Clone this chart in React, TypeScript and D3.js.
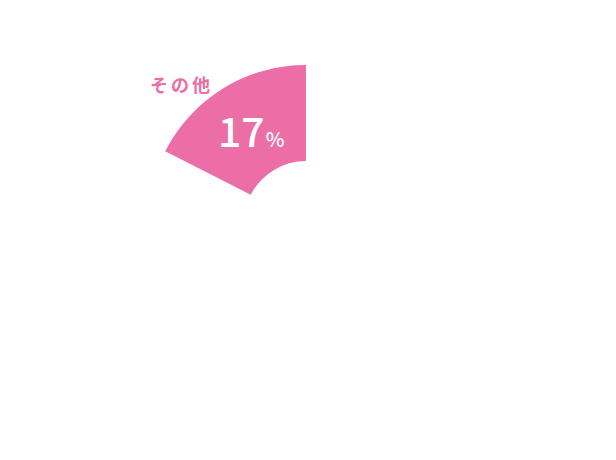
import React, { useRef, useEffect } from "react";
import * as d3 from "d3";

const categories = ["その他"];
const shares = [17.5];
const shareLabels = ["17"];
const colors = ["#ec6ea6"];

const App: React.FC = () => {
  const ref = useRef<SVGSVGElement | null>(null);

  useEffect(() => {
    if (!ref.current) return;
    const svg = d3.select(ref.current);
    svg.selectAll("*").remove();

    const cx = 306;
    const cy = 223;
    const outer = 158;
    const inner = 62;

    // percent -> angle, slice ends at 12 o'clock
    const angle = d3.scaleLinear().domain([0, 100]).range([0, 2 * Math.PI]);
    const arc = d3.arc<any>().innerRadius(inner).outerRadius(outer);

    const g = svg.append("g").attr("transform", `translate(${cx},${cy})`);

    g.selectAll("path")
      .data(shares)
      .join("path")
      .attr("d", (d) => arc({ startAngle: -angle(d), endAngle: 0 }) as string)
      .attr("fill", (_, i) => colors[i]);

    const font = "'Noto Sans CJK JP', 'Noto Sans', sans-serif";

    svg
      .append("text")
      .attr("x", 150)
      .attr("y", 92)
      .attr("font-family", font)
      .attr("font-size", 18)
      .attr("font-weight", 700)
      .attr("letter-spacing", 3)
      .attr("fill", colors[0])
      .text(categories[0]);

    const label = svg
      .append("text")
      .attr("x", 218)
      .attr("y", 147)
      .attr("font-family", font)
      .attr("font-weight", 500)
      .attr("fill", "#fff");
    label.append("tspan").attr("font-size", 41).text(shareLabels[0]);
    label.append("tspan").attr("font-size", 20).attr("dx", 1).text("%");
  }, []);

  return (
    <svg
      ref={ref}
      width={616}
      height={460}
      style={{ position: "absolute", left: 0, top: 0 }}
    />
  );
};

export default App;
